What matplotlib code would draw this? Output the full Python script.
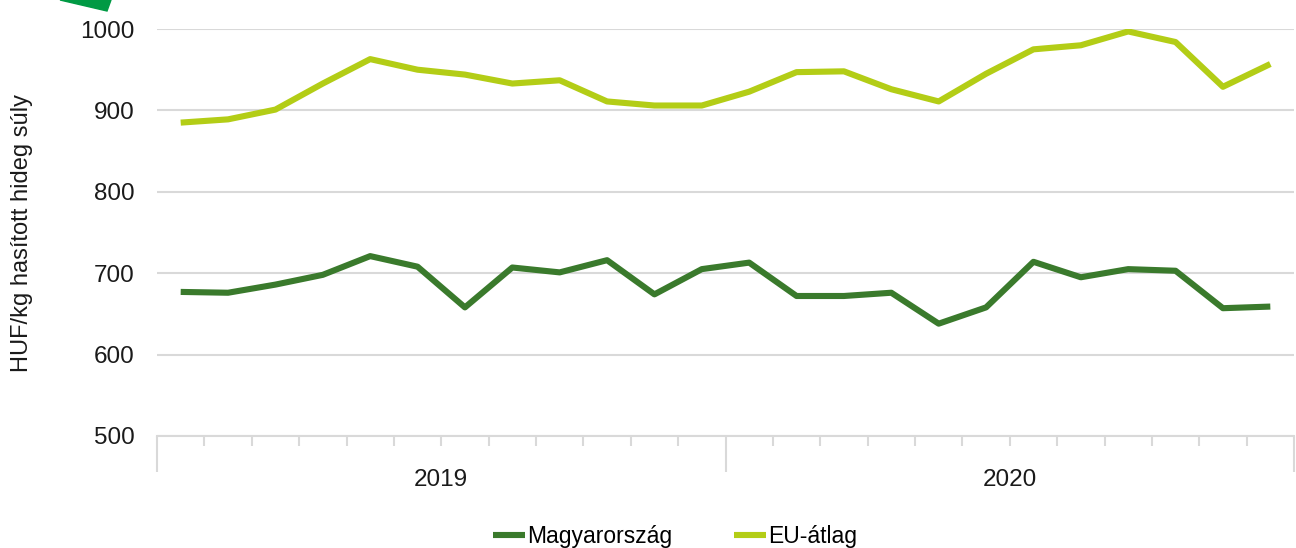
import matplotlib
matplotlib.use('Agg')
import matplotlib.pyplot as plt
from matplotlib.patches import Polygon
import numpy as np

# Monthly carcass prices, 2019-2020 (HUF/kg cold carcass weight)
years = ['2019', '2020']
months_per_year = 12
magyarorszag = [677, 676, 686, 698, 721, 708, 658, 707, 701, 716, 674, 705,
                713, 672, 672, 676, 638, 658, 714, 695, 705, 703, 657, 659]
eu_atlag = [885, 889, 901, 933, 963, 950, 944, 933, 937, 911, 906, 906,
            923, 947, 948, 926, 911, 945, 975, 980, 997, 984, 929, 957]
y_ticks = [500, 600, 700, 800, 900, 1000]

plt.rcParams['font.family'] = ['Liberation Sans', 'DejaVu Sans']

fig = plt.figure(figsize=(12.96, 5.48), dpi=100)
ax = fig.add_axes([157 / 1296, 1 - 436 / 548, 1137 / 1296, 407 / 548])

x = np.arange(len(magyarorszag))
ax.plot(x, magyarorszag, color='#3a7a2c', linewidth=4.4, label='Magyarország',
        solid_capstyle='butt')
ax.plot(x, eu_atlag, color='#b3cd16', linewidth=4.4, label='EU-átlag',
        solid_capstyle='butt')

ax.set_xlim(-0.5, len(x) - 0.5)
ax.set_ylim(500, 1000)
ax.set_yticks(y_ticks)
ax.tick_params(axis='y', length=0, pad=16, labelsize=17.5, labelcolor='#1a1a1a')
ax.grid(True, axis='y', color='#d9d9d9', linewidth=1.5)
ax.set_axisbelow(True)

for side in ['top', 'right', 'left']:
    ax.spines[side].set_visible(False)
ax.spines['bottom'].set_color('#d9d9d9')
ax.spines['bottom'].set_linewidth(1.5)

# category boundary ticks: short for months, long for years
n = len(x)
ax.set_xticks([-0.5 + i * months_per_year for i in range(len(years) + 1)])
ax.set_xticks([i + 0.5 for i in range(n - 1) if (i + 1) % months_per_year != 0], minor=True)
ax.set_xticklabels([])
ax.tick_params(axis='x', which='major', length=26, width=1.5, color='#d9d9d9', direction='out')
ax.tick_params(axis='x', which='minor', length=7.5, width=1.5, color='#d9d9d9', direction='out')

for i, yr in enumerate(years):
    xc = i * months_per_year + (months_per_year - 1) / 2
    ax.text(xc, -0.108, yr, transform=ax.get_xaxis_transform(), ha='center', va='center',
            fontsize=17.5, color='#1a1a1a')

fig.text(0.017, 1 - 233 / 548, 'HUF/kg hasított hideg súly', rotation=90,
         ha='center', va='center', fontsize=17, color='#1a1a1a')

fig.legend(loc='center', bbox_to_anchor=(0.521, 1 - 537 / 548), ncol=2, frameon=False,
           fontsize=16.5, handlelength=1.4, handletextpad=0.1, columnspacing=2.7)

# green corner decoration
fig.patches.append(Polygon([(60 / 1296, 1), (111 / 1296, 1), (107 / 1296, 1 - 11 / 548)],
                           closed=True, transform=fig.transFigure, color='#009a44'))

fig.savefig('out.png', dpi=100)
